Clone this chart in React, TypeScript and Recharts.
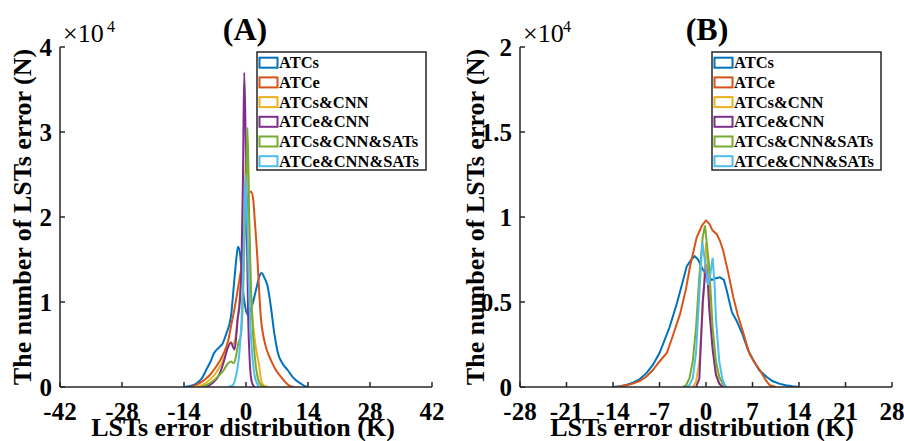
import { LineChart, Line, XAxis, YAxis } from "recharts";

const FONT = '"Liberation Serif", "Times New Roman", serif';
const AXIS_COLOR = "#262626";

const SERIES_NAMES = ["ATCs", "ATCe", "ATCs&CNN", "ATCe&CNN", "ATCs&CNN&SATs", "ATCe&CNN&SATs"];
const SERIES_COLORS = ["#0072BD", "#D95319", "#EDB120", "#7E2F8E", "#77AC30", "#4DBEEE"];

// [error (K), count (x10^4)]
const A_ATCS: [number, number][] = [
  [-14, 0], [-12, 0.02], [-11, 0.05], [-10, 0.1], [-9, 0.2], [-8, 0.3], [-7.2, 0.4], [-6, 0.47],
  [-5.3, 0.51], [-4.5, 0.62], [-3.4, 0.83], [-2.7, 1.22], [-2.2, 1.5], [-1.8, 1.65], [-1.3, 1.55],
  [-0.8, 1.2], [-0.2, 0.95], [0.4, 0.85], [1, 0.9], [1.5, 0.98], [2.3, 1.15], [3, 1.3], [3.5, 1.34],
  [4.2, 1.28], [4.9, 1.18], [5.6, 0.95], [6.4, 0.63], [7.2, 0.4], [8.2, 0.28], [9.4, 0.2],
  [10.5, 0.12], [11.5, 0.07], [12.4, 0.04], [13.3, 0.01], [14, 0],
];
const A_ATCE: [number, number][] = [
  [-12.5, 0], [-11, 0.03], [-10, 0.06], [-9, 0.1], [-8, 0.15], [-7, 0.22], [-6, 0.3], [-5, 0.4],
  [-4, 0.55], [-3.4, 0.71], [-2.5, 0.95], [-1.5, 1.26], [-0.8, 1.5], [-0.3, 1.8], [0.2, 2.05],
  [0.7, 2.28], [1.1, 2.3], [1.6, 2.22], [2, 1.95], [2.6, 1.49], [3, 1.1], [3.4, 0.79], [4, 0.58],
  [4.8, 0.42], [5.6, 0.32], [6.5, 0.22], [7.9, 0.12], [9, 0.05], [10, 0.01], [11, 0],
];
const A_ATCS_CNN: [number, number][] = [
  [-11, 0], [-9, 0.05], [-7, 0.15], [-5.5, 0.28], [-4.5, 0.4], [-3.5, 0.53], [-3, 0.5], [-2.5, 0.55],
  [-2, 0.75], [-1.5, 1.0], [-1, 1.4], [-0.5, 2.0], [0, 2.7], [0.3, 2.9], [0.7, 2.0], [1, 1.3],
  [1.5, 0.8], [2, 0.55], [2.5, 0.38], [3, 0.24], [3.4, 0.08], [4, 0.02], [5, 0],
];
const A_ATCE_CNN: [number, number][] = [
  [-9, 0], [-7.5, 0.05], [-6, 0.15], [-5, 0.3], [-4.2, 0.45], [-3.4, 0.52], [-2.6, 0.44], [-2.2, 0.6],
  [-1.9, 0.79], [-1.4, 1.0], [-1, 1.5], [-0.7, 2.4], [-0.4, 3.7], [-0.1, 3.0], [0.2, 1.8],
  [0.5, 0.8], [0.8, 0.35], [1.1, 0.12], [1.5, 0.03], [2, 0],
];
const A_ATCS_CNN_SATS: [number, number][] = [
  [-10, 0], [-8, 0.05], [-6, 0.14], [-5, 0.2], [-4.2, 0.27], [-3.4, 0.3], [-2.8, 0.28], [-2.3, 0.35],
  [-1.8, 0.5], [-1.1, 0.63], [-0.6, 1.2], [-0.2, 2.0], [0.1, 2.6], [0.35, 3.05], [0.7, 2.0],
  [1.1, 1.2], [1.5, 0.7], [2, 0.35], [2.5, 0.15], [3, 0.05], [4, 0],
];
const A_ATCE_CNN_SATS: [number, number][] = [
  [-4, 0], [-3, 0.02], [-2.5, 0.08], [-2, 0.2], [-1.5, 0.4], [-1, 0.8], [-0.5, 1.6], [-0.1, 2.5],
  [0.3, 1.9], [0.7, 1.1], [1, 0.7], [1.5, 0.32], [2, 0.12], [2.5, 0.04], [3, 0],
];

const B_ATCS: [number, number][] = [
  [-14, 0], [-13, 0.005], [-12, 0.012], [-11, 0.025], [-10, 0.045], [-9, 0.08], [-8, 0.13], [-7, 0.2],
  [-6.4, 0.26], [-5.5, 0.35], [-4.4, 0.49], [-3.5, 0.62], [-2.9, 0.71], [-2.2, 0.75], [-1.7, 0.77],
  [-1.2, 0.75], [-0.6, 0.7], [0, 0.66], [0.5, 0.64], [0.9, 0.63], [1.5, 0.64], [2.1, 0.645],
  [2.7, 0.63], [3.1, 0.57], [3.9, 0.44], [4.6, 0.39], [5.5, 0.31], [6.3, 0.22], [7.1, 0.16],
  [8, 0.1], [9.1, 0.06], [10, 0.035], [11, 0.02], [12, 0.01], [13, 0.004], [14, 0],
];
const B_ATCE: [number, number][] = [
  [-13.4, 0], [-12, 0.01], [-11, 0.02], [-10, 0.035], [-9, 0.06], [-8, 0.1], [-7, 0.15], [-5.9, 0.2],
  [-5, 0.3], [-3.9, 0.43], [-3, 0.58], [-2.4, 0.71], [-1.4, 0.88], [-0.6, 0.95], [0, 0.98],
  [0.5, 0.96], [1, 0.92], [1.6, 0.9], [2.1, 0.86], [2.6, 0.8], [3.3, 0.68], [4.1, 0.53],
  [4.8, 0.42], [5.6, 0.32], [6.5, 0.2], [7.2, 0.15], [8.1, 0.1], [9, 0.04], [9.6, 0.01], [10.5, 0],
];
const B_ATCS_CNN: [number, number][] = [
  [-2, 0], [-1.5, 0.03], [-1, 0.15], [-0.5, 0.45], [0, 0.85], [0.5, 0.6], [1, 0.25], [1.5, 0.08],
  [2, 0.02], [2.5, 0],
];
const B_ATCE_CNN: [number, number][] = [
  [-1.5, 0], [-1, 0.05], [-0.5, 0.5], [0, 0.72], [0.3, 0.6], [0.5, 0.45], [1, 0.22], [1.5, 0.07],
  [2, 0.02], [2.5, 0],
];
const B_ATCS_CNN_SATS: [number, number][] = [
  [-3.5, 0], [-3, 0.01], [-2.5, 0.05], [-2, 0.15], [-1.5, 0.35], [-1, 0.65], [-0.5, 0.88],
  [-0.15, 0.95], [0.5, 0.7], [1, 0.35], [1.5, 0.15], [2, 0.06], [2.5, 0.02], [3, 0],
];
const B_ATCE_CNN_SATS: [number, number][] = [
  [-3, 0], [-2.5, 0.01], [-2, 0.05], [-1.5, 0.2], [-1, 0.55], [-0.55, 0.85], [0, 0.7], [0.3, 0.6],
  [0.6, 0.65], [1, 0.76], [1.3, 0.6], [1.5, 0.4], [2, 0.15], [2.5, 0.04], [3, 0],
];

const A_SERIES = [A_ATCS, A_ATCE, A_ATCS_CNN, A_ATCE_CNN, A_ATCS_CNN_SATS, A_ATCE_CNN_SATS];
const B_SERIES = [B_ATCS, B_ATCE, B_ATCS_CNN, B_ATCE_CNN, B_ATCS_CNN_SATS, B_ATCE_CNN_SATS];

const A_X_TICKS = [-42, -28, -14, 0, 14, 28, 42];
const A_Y_TICKS = [0, 1, 2, 3, 4];
const B_X_TICKS = [-28, -21, -14, -7, 0, 7, 14, 21, 28];
const B_Y_TICKS = [0, 0.5, 1, 1.5, 2];

const tickStyle = { fontSize: 25, fontWeight: "bold", fill: "#000", fontFamily: FONT };

type PanelProps = {
  series: [number, number][][];
  xTicks: number[];
  yTicks: number[];
  width: number;
  yAxisWidth: number;
  rightMargin: number;
  curveType: "monotone" | "linear";
};

function Panel({ series, xTicks, yTicks, width, yAxisWidth, rightMargin, curveType }: PanelProps) {
  const xDomain = [xTicks[0], xTicks[xTicks.length - 1]];
  const yDomain = [yTicks[0], yTicks[yTicks.length - 1]];
  return (
    <LineChart width={width} height={441} margin={{ top: 47, right: rightMargin, bottom: 0, left: 0 }}>
      <XAxis
        type="number"
        dataKey="x"
        domain={xDomain}
        ticks={xTicks}
        allowDataOverflow
        height={54}
        tick={tickStyle}
        tickSize={-5}
        tickMargin={20}
        stroke={AXIS_COLOR}
        strokeWidth={1.5}
        interval={0}
      />
      <XAxis
        xAxisId="top"
        orientation="top"
        type="number"
        domain={xDomain}
        ticks={xTicks}
        height={0}
        mirror
        tick={false}
        tickSize={5}
        stroke={AXIS_COLOR}
        strokeWidth={1.5}
      />
      <YAxis
        type="number"
        domain={yDomain}
        ticks={yTicks}
        allowDataOverflow
        width={yAxisWidth}
        tick={tickStyle}
        tickSize={-5}
        tickMargin={13}
        stroke={AXIS_COLOR}
        strokeWidth={1.5}
        interval={0}
      />
      <YAxis
        yAxisId="right"
        orientation="right"
        type="number"
        domain={yDomain}
        ticks={yTicks}
        width={0}
        mirror
        tick={false}
        tickSize={5}
        stroke={AXIS_COLOR}
        strokeWidth={1.5}
      />
      {series.map((pts, i) => (
        <Line
          key={SERIES_NAMES[i]}
          data={pts.map(([x, y]) => ({ x, y }))}
          dataKey="y"
          type={curveType}
          stroke={SERIES_COLORS[i]}
          strokeWidth={2}
          dot={false}
          isAnimationActive={false}
        />
      ))}
    </LineChart>
  );
}

function LegendBox({ x, y }: { x: number; y: number }) {
  return (
    <g>
      <rect x={x} y={y} width={169} height={118} fill="#fff" stroke={AXIS_COLOR} strokeWidth={1.5} />
      {SERIES_NAMES.map((name, i) => {
        const cy = y + 10.7 + i * 19.7;
        return (
          <g key={name}>
            <rect x={x + 2.5} y={cy - 5} width={18} height={10} fill="none" stroke={SERIES_COLORS[i]} strokeWidth={2} />
            <text x={x + 22} y={cy + 5.5} fontSize={16.5} fontWeight="bold" fontFamily={FONT} fill="#000">
              {name}
            </text>
          </g>
        );
      })}
    </g>
  );
}

export default function App() {
  return (
    <div style={{ position: "absolute", left: 0, top: 0, width: 904, height: 441, background: "#fff" }}>
      <div style={{ position: "absolute", left: 0, top: 0 }}>
        <Panel series={A_SERIES} xTicks={A_X_TICKS} yTicks={A_Y_TICKS} width={450} yAxisWidth={60} rightMargin={18} curveType="monotone" />
      </div>
      <div style={{ position: "absolute", left: 450, top: 0 }}>
        <Panel series={B_SERIES} xTicks={B_X_TICKS} yTicks={B_Y_TICKS} width={454} yAxisWidth={70} rightMargin={12} curveType="linear" />
      </div>
      <svg width={904} height={441} style={{ position: "absolute", left: 0, top: 0, pointerEvents: "none" }} fontFamily={FONT}>
        <text x={245} y={40} textAnchor="middle" fontSize={32} fontWeight="bold">(A)</text>
        <text x={707} y={40} textAnchor="middle" fontSize={32} fontWeight="bold">(B)</text>
        <text x={63} y={42} fontSize={26}>×10</text>
        <text x={107} y={32} fontSize={16}>4</text>
        <text x={523} y={42} fontSize={26}>×10</text>
        <text x={563} y={32} fontSize={16}>4</text>
        <text x={243} y={436} textAnchor="middle" fontSize={26} fontWeight="bold">LSTs error distribution (K)</text>
        <text x={702} y={436} textAnchor="middle" fontSize={26} fontWeight="bold">LSTs error distribution (K)</text>
        <text transform="translate(31,217) rotate(-90)" textAnchor="middle" fontSize={26} fontWeight="bold">The number of LSTs error (N)</text>
        <text transform="translate(484,217) rotate(-90)" textAnchor="middle" fontSize={26} fontWeight="bold">The number of LSTs error (N)</text>
        <LegendBox x={257} y={52} />
        <LegendBox x={712} y={52} />
      </svg>
    </div>
  );
}
